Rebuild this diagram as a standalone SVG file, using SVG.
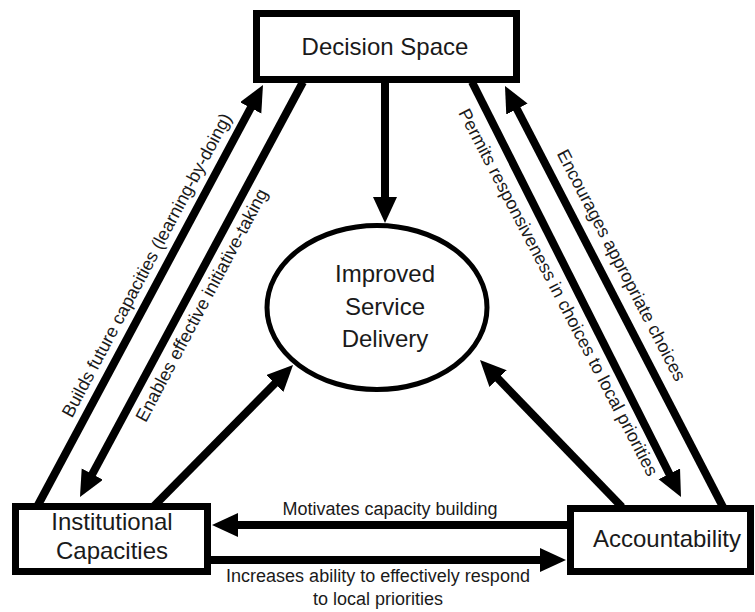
<svg xmlns="http://www.w3.org/2000/svg" width="755" height="612" viewBox="0 0 755 612">
<style>
text{font-family:"Liberation Sans",Arial,sans-serif;fill:#1a1a1a;text-anchor:middle}
.big{font-size:24px}
.lbl{font-size:18px}
.box{fill:#fff;stroke:#000;stroke-width:7}
.conn{stroke:#000;stroke-width:8;fill:none}
</style>
<defs>
<marker id="ah" markerUnits="userSpaceOnUse" markerWidth="28" markerHeight="26" refX="4" refY="12" orient="auto" viewBox="0 0 28 26">
<path d="M0,0 L26,12 L0,24 z" fill="#000"/>
</marker>
</defs>
<g id="connectors">
<line class="conn" x1="38" y1="505" x2="252.6" y2="104.4" marker-end="url(#ah)"/>
<line class="conn" x1="303" y1="82" x2="90.4" y2="477.6" marker-end="url(#ah)"/>
<line class="conn" x1="153" y1="507" x2="277.6" y2="380.7" marker-end="url(#ah)"/>
<line class="conn" x1="385" y1="83" x2="385" y2="201" marker-end="url(#ah)"/>
<line class="conn" x1="472" y1="82" x2="671.1" y2="477.4" marker-end="url(#ah)"/>
<line class="conn" x1="723" y1="507" x2="515.1" y2="105.5" marker-end="url(#ah)"/>
<line class="conn" x1="622" y1="507" x2="495.3" y2="375.8" marker-end="url(#ah)"/>
<line class="conn" x1="570" y1="525" x2="234" y2="525" marker-end="url(#ah)"/>
<line class="conn" x1="211" y1="560" x2="544" y2="560" marker-end="url(#ah)"/>
<text class="lbl" transform="translate(152,268) rotate(-62)">Builds future capacities (learning-by-doing)</text>
<text class="lbl" transform="translate(207,308) rotate(-62)">Enables effective initiative-taking</text>
<text class="lbl" transform="translate(553,295) rotate(62.5)">Permits responsiveness in choices to local priorities</text>
<text class="lbl" transform="translate(616,268) rotate(62.5)">Encourages appropriate choices</text>
<text class="lbl" x="390" y="515">Motivates capacity building</text>
<text class="lbl" x="378" y="582">Increases ability to effectively respond</text>
<text class="lbl" x="378" y="605">to local priorities</text>
</g>
<g id="decision-space">
<rect class="box" x="256.5" y="13.5" width="260" height="66"/>
<text class="big" x="385" y="55">Decision Space</text>
</g>
<g id="improved-service-delivery">
<ellipse cx="377" cy="307.5" rx="110" ry="82" fill="#fff" stroke="#000" stroke-width="5"/>
<text class="big" x="385" y="282">Improved</text>
<text class="big" x="385" y="315">Service</text>
<text class="big" x="385" y="347">Delivery</text>
</g>
<g id="institutional-capacities">
<rect class="box" x="15.5" y="506.5" width="192" height="65"/>
<text class="big" x="112" y="530">Institutional</text>
<text class="big" x="112" y="559">Capacities</text>
</g>
<g id="accountability">
<rect class="box" x="570.5" y="508.5" width="180" height="63"/>
<text class="big" x="667" y="547">Accountability</text>
</g>
</svg>
